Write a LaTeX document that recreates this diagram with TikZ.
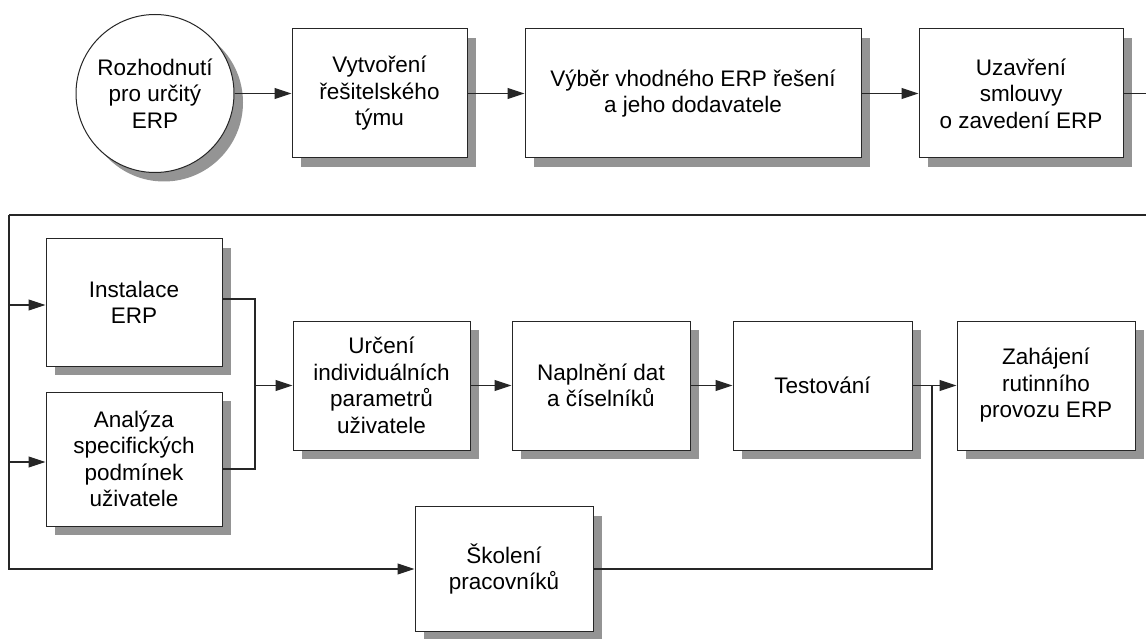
\documentclass[tikz,border=0pt]{standalone}
\usepackage{fontspec}
\setmainfont{Liberation Sans}
\usetikzlibrary{arrows.meta,shadows}
\tikzset{shadebox/.style={drop shadow={shadow xshift=9pt,shadow yshift=-9pt,fill=black!42,opacity=1}}}

\begin{document}
\begin{tikzpicture}[x=1pt,y=-1pt]
	\tikzstyle{BOX} = [draw=black!85, line width=1pt, fill=white, shadebox, align=center, inner sep=0pt, font=\fontsize{22.5}{26.5}\selectfont]
	\tikzstyle{stage} = [BOX, rectangle, minimum height=129pt]
	\tikzstyle{decide} = [BOX, circle, minimum size=158pt]
	\tikzstyle{conn} = [line width=1.1pt, draw=black!85]
	\tikzstyle{arr} = [conn, -{Triangle[length=17pt,width=11pt]}]

	\useasboundingbox (0,0) rectangle (1146,639);

	% first row
	\node[decide] (dec) at (155,93.5) {Rozhodnutí\\pro určitý\\ERP};
	\node[stage, minimum width=175pt] (team) at (379.5,93.5) {Vytvoření\\řešitelského\\týmu};
	\node[stage, minimum width=336pt] (sel) at (693,93.5) {Výběr vhodného ERP řešení\\a jeho dodavatele};
	\node[stage, minimum width=204pt] (contr) at (1021,93.5) {Uzavření\\smlouvy\\o zavedení ERP};
	\draw[arr] (dec) -- (team);
	\draw[arr] (team) -- (sel);
	\draw[arr] (sel) -- (contr);

	% second row
	\node[stage, minimum width=176pt, minimum height=127pt] (inst) at (134,302.5) {Instalace\\ERP};
	\node[stage, minimum width=176pt, minimum height=134pt] (anal) at (134,459) {Analýza\\specifických\\podmínek\\uživatele};
	\node[stage, minimum width=177pt] (param) at (381.5,385.5) {Určení\\individuálních\\parametrů\\uživatele};
	\node[stage, minimum width=178pt] (data) at (601,385.5) {Naplnění dat\\a číselníků};
	\node[stage, minimum width=179pt] (test) at (822.5,385.5) {Testování};
	\node[stage, minimum width=178pt] (run) at (1046,385.5) {Zahájení\\rutinního\\provozu ERP};
	\node[stage, minimum width=178pt, minimum height=125pt] (train) at (504,569) {Školení\\pracovníků};

	% wrap from the first row
	\coordinate (rt) at (1148,93.5);
	\coordinate (tl) at (9,215);
	\draw[conn] (contr) -- (rt) |- (tl);
	\draw[arr] (tl) |- (train);
	\draw[arr] (tl |- 0,305) -- ([yshift=-2.5pt]inst.west);
	\draw[arr] (tl |- 0,462) -- ([yshift=-3pt]anal.west);

	% merge into the parameters
	\coordinate (mg) at (255,385.5);
	\draw[conn] ([yshift=3.5pt]inst.east) -| (mg);
	\draw[conn] ([yshift=-10pt]anal.east) -| (mg);
	\draw[arr] (mg) -- (param);
	\draw[arr] (param) -- (data);
	\draw[arr] (data) -- (test);
	\draw[arr] (test) -- (run);

	\coordinate (jn) at (932,385.5);
	\draw[conn] (train) -| (jn);
\end{tikzpicture}
\end{document}
